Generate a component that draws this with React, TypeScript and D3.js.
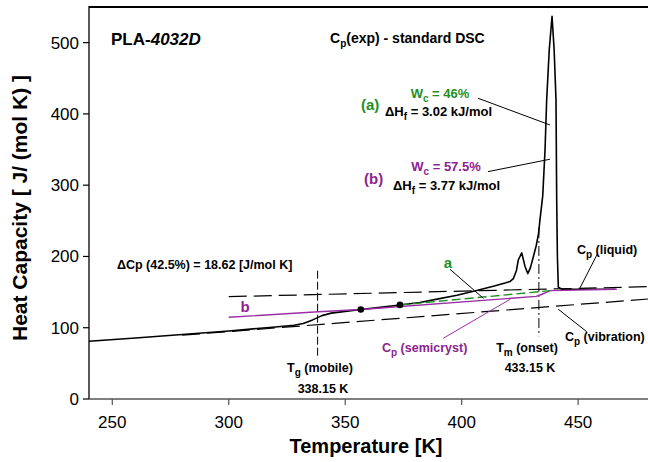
import React from "react";
import * as d3 from "d3";

// Experimental Cp curve (standard DSC)
const expT = [240, 260, 280, 300, 320, 328, 332, 336, 340, 344, 350, 356.7, 365, 373.5, 382, 390, 398, 406, 414, 419, 420.8, 422.2, 423.5, 424.3, 425.8, 427.2, 428.4, 429.5, 430.8, 432, 433, 433.6, 434.8, 435.8, 436.5, 437.6, 438.8, 439.7, 440.5, 440.8, 441.1, 441.5, 443, 466];
const expCp = [81, 85.5, 90.5, 95.5, 101, 103.5, 106, 111, 117, 120.5, 123, 125.5, 128.5, 132, 135.5, 140.5, 145.5, 152, 158.5, 163, 165, 169, 180, 195, 205, 186, 176, 184, 200, 215, 232, 251, 285, 350, 420, 490, 537, 490, 420, 280, 200, 157, 154, 154];

// Semicrystalline baseline b (purple)
const bT = [300, 338.5, 356.7, 432, 434.5, 438, 466.6];
const bCp = [114.6, 122.5, 125.5, 144, 147, 152, 154];

// Semicrystalline baseline a (green dashed)
const aT = [373.5, 438];
const aCp = [132, 152];

// Liquid and vibrational Cp (dashed)
const liqT = [300, 480];
const liqCp = [143.6, 157.6];
const vibT = [280, 480];
const vibCp = [89.5, 140.3];

// Marked points
const dotT = [356.7, 373.5];
const dotCp = [125.5, 132];

const xTicks = [250, 300, 350, 400, 450];
const yTicks = [0, 100, 200, 300, 400, 500];
const Tg = 338.15;
const Tm = 433.15;

const FONT = "'Liberation Sans', Arial, Helvetica, sans-serif";
const GREEN = "#1f8f1f";
const PURPLE = "#8c2390";
const PLINE = "#9a2ea4";

export default function App() {
  const W = 648, H = 462;
  const x = d3.scaleLinear().domain([240, 480]).range([89, 648]);
  const y = d3.scaleLinear().domain([0, 550]).range([399, 7]);
  const line = d3.line<[number, number]>().x(d => x(d[0])).y(d => y(d[1]));
  const zip = (a: number[], b: number[]) => a.map((v, i) => [v, b[i]] as [number, number]);

  const lead = (t1: number, c1: number, t2: number, c2: number, k: string) => (
    <line key={k} x1={x(t1)} y1={y(c1)} x2={x(t2)} y2={y(c2)} stroke="#000" strokeWidth={1} />
  );

  return (
    <div style={{ position: "absolute", left: 0, top: 0 }}>
      <svg width={W} height={H} style={{ display: "block", background: "#fff" }} fontFamily={FONT}>
        {/* dashed reference lines */}
        <path d={line(zip(liqT, liqCp)) || ""} fill="none" stroke="#000" strokeWidth={1.2} strokeDasharray="18,7" />
        <path d={line(zip(vibT, vibCp)) || ""} fill="none" stroke="#000" strokeWidth={1.2} strokeDasharray="18,7" />
        {/* Tg and Tm vertical lines */}
        <line x1={x(Tg)} x2={x(Tg)} y1={y(180)} y2={y(58)} stroke="#000" strokeWidth={1} strokeDasharray="8,3" />
        <line x1={x(Tm)} x2={x(Tm)} y1={y(240)} y2={y(88)} stroke="#000" strokeWidth={1} strokeDasharray="10,3,2,3" />

        {/* experimental curve */}
        <path d={line(zip(expT, expCp)) || ""} fill="none" stroke="#000" strokeWidth={1.6} strokeLinejoin="round" />
        {/* baselines */}
        <path d={line(zip(bT, bCp)) || ""} fill="none" stroke={PLINE} strokeWidth={1.4} />
        <path d={line(zip(aT, aCp)) || ""} fill="none" stroke={GREEN} strokeWidth={1.4} strokeDasharray="9,4" />
        {dotT.map((t, i) => (
          <circle key={i} cx={x(t)} cy={y(dotCp[i])} r={3.3} fill="#000" />
        ))}

        {/* leader lines */}
        {lead(407, 422, 437.9, 384.5, "la")}
        {lead(411.3, 319, 437.9, 336.4, "lb")}
        {lead(395, 182, 409.3, 141.3, "lsa")}
        {lead(458.5, 205, 450.8, 155.8, "lliq")}
        {lead(453.7, 94.4, 441.5, 125.9, "lvib")}
        <line x1={x(392.1)} y1={y(85.2)} x2={x(420.8)} y2={y(139.9)} stroke={PLINE} strokeWidth={1} />

        {/* axes */}
        <line x1={89} x2={648} y1={7} y2={7} stroke="#000" strokeWidth={2} />
        <line x1={89} x2={89} y1={6} y2={399} stroke="#000" strokeWidth={1.3} />
        <line x1={89} x2={648} y1={399} y2={399} stroke="#555" strokeWidth={1.6} />
        {yTicks.map(t => (
          <g key={"y" + t}>
            <line x1={83} x2={89} y1={y(t)} y2={y(t)} stroke="#000" strokeWidth={1.2} />
            <text x={79} y={y(t) + 6} textAnchor="end" fontSize={17}>{t}</text>
          </g>
        ))}
        {xTicks.map(t => (
          <g key={"x" + t}>
            <line x1={x(t)} x2={x(t)} y1={399} y2={405} stroke="#555" strokeWidth={1.2} />
            <text x={x(t)} y={428} textAnchor="middle" fontSize={17}>{t}</text>
          </g>
        ))}
        <text x={366} y={453} textAnchor="middle" fontSize={20} fontWeight="bold">Temperature [K]</text>
        <text transform="translate(27,208) rotate(-90)" textAnchor="middle" fontSize={21} fontWeight="bold">Heat Capacity [ J/ (mol K) ]</text>

        {/* titles */}
        <text x={111} y={45} fontSize={17} fontWeight="bold">PLA-<tspan fontStyle="italic">4032D</tspan></text>
        <text x={330} y={43} fontSize={14} fontWeight="bold">C<tspan fontSize={10} dy={4}>p</tspan><tspan dy={-4}>(exp) - standard DSC</tspan></text>

        {/* annotation a */}
        <text x={440} y={98} textAnchor="middle" fontSize={13} fontWeight="bold" fill={GREEN}>W<tspan fontSize={10} dy={4}>c</tspan><tspan dy={-4}> = 46%</tspan></text>
        <text x={361} y={110} fontSize={15} fontWeight="bold" fill={GREEN}>(a)</text>
        <text x={385} y={116} fontSize={13} fontWeight="bold">ΔH<tspan fontSize={10} dy={4}>f</tspan><tspan dy={-4}> = 3.02 kJ/mol</tspan></text>

        {/* annotation b */}
        <text x={446} y={171} textAnchor="middle" fontSize={13} fontWeight="bold" fill={PURPLE}>W<tspan fontSize={10} dy={4}>c</tspan><tspan dy={-4}> = 57.5%</tspan></text>
        <text x={364} y={184} fontSize={15} fontWeight="bold" fill={PURPLE}>(b)</text>
        <text x={393} y={190} fontSize={13} fontWeight="bold">ΔH<tspan fontSize={10} dy={4}>f</tspan><tspan dy={-4}> = 3.77 kJ/mol</tspan></text>

        {/* other labels */}
        <text x={117} y={269} fontSize={12.5} fontWeight="bold">ΔCp (42.5%) = 18.62 [J/mol K]</text>
        <text x={245} y={312} textAnchor="middle" fontSize={15} fontWeight="bold" fill={PURPLE}>b</text>
        <text x={448} y={268} textAnchor="middle" fontSize={15} fontWeight="bold" fill={GREEN}>a</text>
        <text x={577} y={254} fontSize={12.5} fontWeight="bold">C<tspan fontSize={10} dy={4}>p</tspan><tspan dy={-4}> (liquid)</tspan></text>
        <text x={565} y={341} fontSize={12.5} fontWeight="bold">C<tspan fontSize={10} dy={4}>p</tspan><tspan dy={-4}> (vibration)</tspan></text>
        <text x={382} y={352} fontSize={12.5} fontWeight="bold" fill={PURPLE}>C<tspan fontSize={10} dy={4}>p</tspan><tspan dy={-4}> (semicryst)</tspan></text>
        <text x={527} y={352} textAnchor="middle" fontSize={12.5} fontWeight="bold">T<tspan fontSize={10} dy={4}>m</tspan><tspan dy={-4}> (onset)</tspan></text>
        <text x={530} y={372} textAnchor="middle" fontSize={12.5} fontWeight="bold">433.15 K</text>
        <text x={320} y={372} textAnchor="middle" fontSize={12.5} fontWeight="bold">T<tspan fontSize={10} dy={4}>g</tspan><tspan dy={-4}> (mobile)</tspan></text>
        <text x={323} y={393} textAnchor="middle" fontSize={12.5} fontWeight="bold">338.15 K</text>
      </svg>
    </div>
  );
}
